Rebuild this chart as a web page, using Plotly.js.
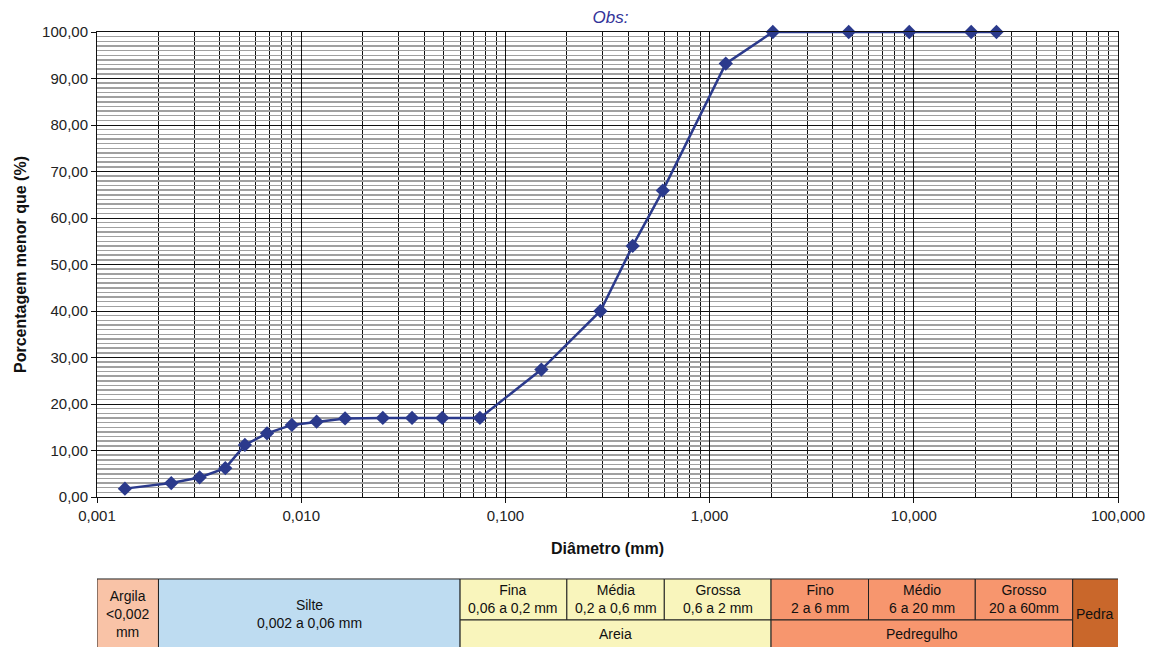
<!DOCTYPE html>
<html><head><meta charset="utf-8">
<script src="https://cdn.plot.ly/plotly-3.0.1.min.js"></script>
<style>body{margin:0;background:#fff}#chart{width:1154px;height:647px}</style>
</head><body><div id="chart"></div>
<script>
// Granulometric curve data
const diameters = [0.00137, 0.00231, 0.00318, 0.00425, 0.0053, 0.0068, 0.0090, 0.0119, 0.0164, 0.0251, 0.0349, 0.0491, 0.075, 0.15, 0.292, 0.42, 0.59, 1.2, 2.04, 4.8, 9.5, 19.1, 25.4];
const passing   = [1.8, 3.0, 4.2, 6.2, 11.2, 13.7, 15.5, 16.2, 16.9, 17.0, 17.0, 17.0, 17.0, 27.4, 40.0, 54.0, 65.9, 93.2, 100, 100, 100, 100, 100];

// Soil classification table (bottom band)
const classNames = ['Argila<br>&lt;0,002<br>mm', 'Silte<br>0,002 a 0,06 mm', 'Fina<br>0,06 a 0,2 mm', 'Média<br>0,2 a 0,6 mm', 'Grossa<br>0,6 a 2 mm', 'Areia', 'Fino<br>2 a 6 mm', 'Médio<br>6 a 20 mm', 'Grosso<br>20 a 60mm', 'Pedregulho', 'Pedra'];
const classFrom  = [0.001, 0.002, 0.06, 0.2, 0.6, 0.06, 2, 6, 20, 2, 60];
const classTo    = [0.002, 0.06, 0.2, 0.6, 2, 2, 6, 20, 60, 60, 105];
const classRow   = ['full', 'full', 'top', 'top', 'top', 'bottom', 'top', 'top', 'top', 'bottom', 'full'];
const classGroup = ['argila', 'silte', 'areia', 'areia', 'areia', 'areia', 'pedregulho', 'pedregulho', 'pedregulho', 'pedregulho', 'pedra'];

const groupColor = {argila: '#F9C3A7', silte: '#BEDCF1', areia: '#F9F5BC', pedregulho: '#F7966E', pedra: '#C9672B'};
const rowY = {full: [-0.33, -0.1763], top: [-0.2645, -0.1763], bottom: [-0.33, -0.2645]};
const rowLabelY = {full: -0.2516, top: -0.2204, bottom: -0.2946};
const FONT = 'Liberation Sans, Arial, sans-serif';

const shapes = [];
const annotations = [];
for (let i = 0; i < classNames.length; i++) {
  const yb = rowY[classRow[i]];
  shapes.push({type: 'rect', xref: 'x', yref: 'paper', x0: classFrom[i], x1: classTo[i], y0: yb[0], y1: yb[1],
    fillcolor: groupColor[classGroup[i]], line: {color: '#222', width: 1}, layer: 'above'});
  annotations.push({xref: 'x', yref: 'paper', x: Math.log10(Math.sqrt(classFrom[i] * Math.min(classTo[i], 100))),
    y: rowLabelY[classRow[i]], xanchor: 'center', yanchor: 'middle',
    text: classNames[i], showarrow: false, font: {family: FONT, size: 14, color: '#111'}, align: 'center'});
}

const trace = {
  x: diameters, y: passing, type: 'scatter', mode: 'lines+markers',
  line: {color: '#2B3A8C', width: 2.5},
  marker: {symbol: 'diamond', size: 11, color: '#2B3A8C'},
  cliponaxis: false, hoverinfo: 'x+y'
};

const layout = {
  width: 1154, height: 647,
  margin: {l: 97, r: 36, t: 32, b: 150},
  paper_bgcolor: '#fff', plot_bgcolor: '#fff',
  separators: ',.',
  showlegend: false,
  font: {family: FONT, size: 15, color: '#222'},
  title: {text: 'Obs:', x: 0.529, xanchor: 'center', y: 0.974, yanchor: 'middle',
    font: {family: FONT, size: 17, color: '#333399', style: 'italic'}},
  xaxis: {
    type: 'log', range: [-3, 2], dtick: 1, tickformat: '.3f',
    showline: true, linecolor: '#111', linewidth: 1, mirror: true,
    ticks: 'outside', ticklen: 5, tickcolor: '#111',
    showgrid: true, gridcolor: '#111', gridwidth: 1, zeroline: false,
    minor: {dtick: 'D1', showgrid: true, gridcolor: '#111', gridwidth: 1, ticks: ''},
    tickfont: {size: 15, color: '#222'},
    title: {text: '<b>Diâmetro (mm)</b>', standoff: 19, font: {size: 16, color: '#111'}}
  },
  yaxis: {
    range: [0, 100], dtick: 10, tickformat: '.2f',
    showline: true, linecolor: '#111', linewidth: 1, mirror: true,
    ticks: 'outside', ticklen: 5, tickcolor: '#111',
    showgrid: true, gridcolor: '#111', gridwidth: 1, zeroline: false,
    minor: {dtick: 1, showgrid: true, gridcolor: '#a0a0a0', gridwidth: 1.5, ticks: ''},
    tickfont: {size: 15, color: '#222'},
    title: {text: '<b>Porcentagem menor que (%)</b>', standoff: 11, font: {size: 16, color: '#111'}}
  },
  shapes: shapes,
  annotations: annotations
};

Plotly.newPlot('chart', [trace], layout, {displayModeBar: false, staticPlot: true});
</script>
</body></html>
